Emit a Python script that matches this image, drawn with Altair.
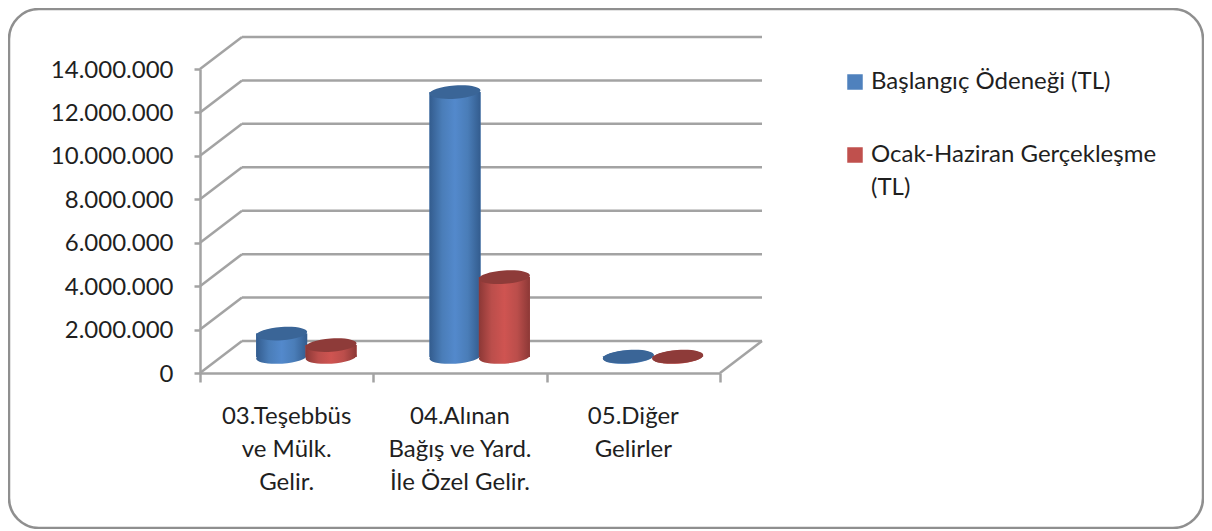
import altair as alt
import pandas as pd

categories = ["03.Teşebbüs|ve Mülk.|Gelir.", "04.Alınan|Bağış ve Yard.|İle Özel Gelir.", "05.Diğer|Gelirler"]
series_names = ["Başlangıç Ödeneği (TL)", "Ocak-Haziran Gerçekleşme (TL)"]
baslangic = [1080000, 12200000, 20000]
gerceklesme = [550000, 3680000, 15000]
levels = [0, 2000000, 4000000, 6000000, 8000000, 10000000, 12000000, 14000000]

FONT = "Lato"
GRID = "#a3a3a3"
W, H = 520, 304
YMAX = 14000000
XPX = 3 / W
YPX = YMAX / H
DX, DY = 42 * XPX, 32 * YPX          # depth of the 3-D box
MX, MY = 19.7 * XPX, 16 * YPX        # bars stand half way into the box
HW = 25.5 * XPX
SHIFT = 24.7 * XPX

x = alt.X("x:Q", scale=alt.Scale(domain=[0, 3], nice=False, zero=False), title=None,
          axis=alt.Axis(values=[0, 1, 2, 3], labels=False, grid=False, domainColor=GRID, domainWidth=2.5,
                        tickColor=GRID, tickWidth=2.5, tickSize=9, zindex=1))
y = alt.Y("y:Q", scale=alt.Scale(domain=[0, YMAX], nice=False), title=None,
          axis=alt.Axis(values=levels, grid=False, domainColor=GRID, domainWidth=2.5, tickColor=GRID,
                        tickWidth=2.5, tickSize=6, labelFont=FONT, labelFontSize=24, labelColor="#1f1f1f",
                        labelPadding=21, labelOffset=1,
                        labelExpr="replace(format(datum.value, ','), /,/g, '.')", zindex=1))

frame = alt.Chart(pd.DataFrame({"a": [0]})).mark_rect(
    fillOpacity=0, stroke="#8f8f8f", strokeWidth=2.5, cornerRadius=30
).encode(x=alt.value(-191), x2=alt.value(1003), y=alt.value(-60), y2=alt.value(459))

gl = pd.DataFrame({"y": levels})
gl["x"] = 0.0
gl["x2"] = DX
gl["y2"] = gl["y"] + DY
gl["bx2"] = 3 + DX
diag = alt.Chart(gl).mark_rule(color=GRID, strokeWidth=2.5).encode(x=x, y=y, x2="x2:Q", y2="y2:Q")
back = alt.Chart(gl).mark_rule(color=GRID, strokeWidth=2.5).encode(
    x=alt.X("x2:Q", scale=alt.Scale(domain=[0, 3], nice=False, zero=False)),
    x2="bx2:Q",
    y=alt.Y("y2:Q", scale=alt.Scale(domain=[0, YMAX], nice=False)))
right = alt.Chart(pd.DataFrame({"x": [3.0], "x2": [3 + DX], "y": [0.0], "y2": [DY]})).mark_rule(
    color=GRID, strokeWidth=2.5).encode(x=x, y=y, x2="x2:Q", y2="y2:Q")

ELLIPSE = "M-1,0.07A1,0.26,-4,1,1,1,-0.07A1,0.26,-4,1,1,-1,0.07Z"
SIZE = 51 ** 2


def grad(dark, mid, light):
    return alt.Gradient(gradient="linear", x1=0, x2=1, y1=0, y2=0, stops=[
        alt.GradientStop(offset=0, color=dark), alt.GradientStop(offset=0.25, color=mid),
        alt.GradientStop(offset=0.5, color=light), alt.GradientStop(offset=0.75, color=mid),
        alt.GradientStop(offset=1, color=dark)])


def df_for(values, name, sign):
    rows = []
    for i, v in enumerate(values):
        c = i + 0.5 + MX + sign * SHIFT
        rows.append({"series": name, "x": c, "x1": c - HW, "x2": c + HW, "y": MY, "top": MY + v})
    return pd.DataFrame(rows)


sx = alt.Scale(domain=[0, 3], nice=False, zero=False)
sy = alt.Scale(domain=[0, YMAX], nice=False)
cscale = alt.Scale(domain=series_names, range=["#4f81bd", "#c0504d"])
legend = alt.Legend(title=None, orient="none", legendX=643, legendY=1, symbolType="square", symbolSize=240,
                    symbolStrokeWidth=0, symbolOpacity=1, labelFont=FONT, labelFontSize=24, labelColor="#1f1f1f",
                    labelLimit=400, labelOffset=4, rowPadding=49, columns=1,
                    labelExpr="datum.label == 'Ocak-Haziran Gerçekleşme (TL)' ? ['Ocak-Haziran Gerçekleşme', '(TL)'] : datum.label",
                    labelBaseline="middle")


def cylinder(values, name, sign, dark, mid, light, topc):
    d = df_for(values, name, sign)
    solid = alt.Chart(d).mark_bar().encode(
        x=alt.X("x1:Q", scale=sx), x2="x2:Q", y=alt.Y("y:Q", scale=sy), y2="top:Q",
        color=alt.Color("series:N", scale=cscale, legend=legend))
    body = alt.Chart(d).mark_bar(color=grad(dark, mid, light)).encode(
        x=alt.X("x1:Q", scale=sx), x2="x2:Q", y=alt.Y("y:Q", scale=sy), y2="top:Q")
    base = alt.Chart(d).mark_point(shape=ELLIPSE, size=SIZE, filled=True, opacity=1, color=grad(dark, mid, light)).encode(
        x=alt.X("x:Q", scale=sx), y=alt.Y("y:Q", scale=sy))
    top = alt.Chart(d).mark_point(shape=ELLIPSE, size=SIZE, filled=True, opacity=1, color=topc).encode(
        x=alt.X("x:Q", scale=sx), y=alt.Y("top:Q", scale=sy))
    return [solid, body, base, top]


labels = alt.Chart(pd.DataFrame({"label": categories, "x": [0.5, 1.5, 2.5], "y": [0, 0, 0]})).mark_text(
    font=FONT, fontSize=24, color="#1f1f1f", lineBreak="|", lineHeight=33, baseline="top", align="center", dy=32
).encode(x=alt.X("x:Q", scale=sx), y=alt.Y("y:Q", scale=sy), text="label:N")

layers = [frame, diag, back, right]
layers += cylinder(baslangic, series_names[0], -1, "#335c8e", "#4a7db8", "#5389cc", "#3a6597")
layers += cylinder(gerceklesme, series_names[1], 1, "#8c3836", "#bb4e4b", "#cf5451", "#8e3b39")
layers += [labels]

chart = alt.layer(*layers).properties(
    width=W, height=H,
    padding={"left": 192, "top": 61, "right": 484, "bottom": 156},
    autosize=alt.AutoSizeParams(type="none"),
    background="white",
).configure_view(stroke=None)
chart.config.style = alt.StyleConfigIndex(**{"guide-label": {"lineHeight": 33}})

chart.save("out.html", embed_options={"renderer": "svg", "actions": False})
